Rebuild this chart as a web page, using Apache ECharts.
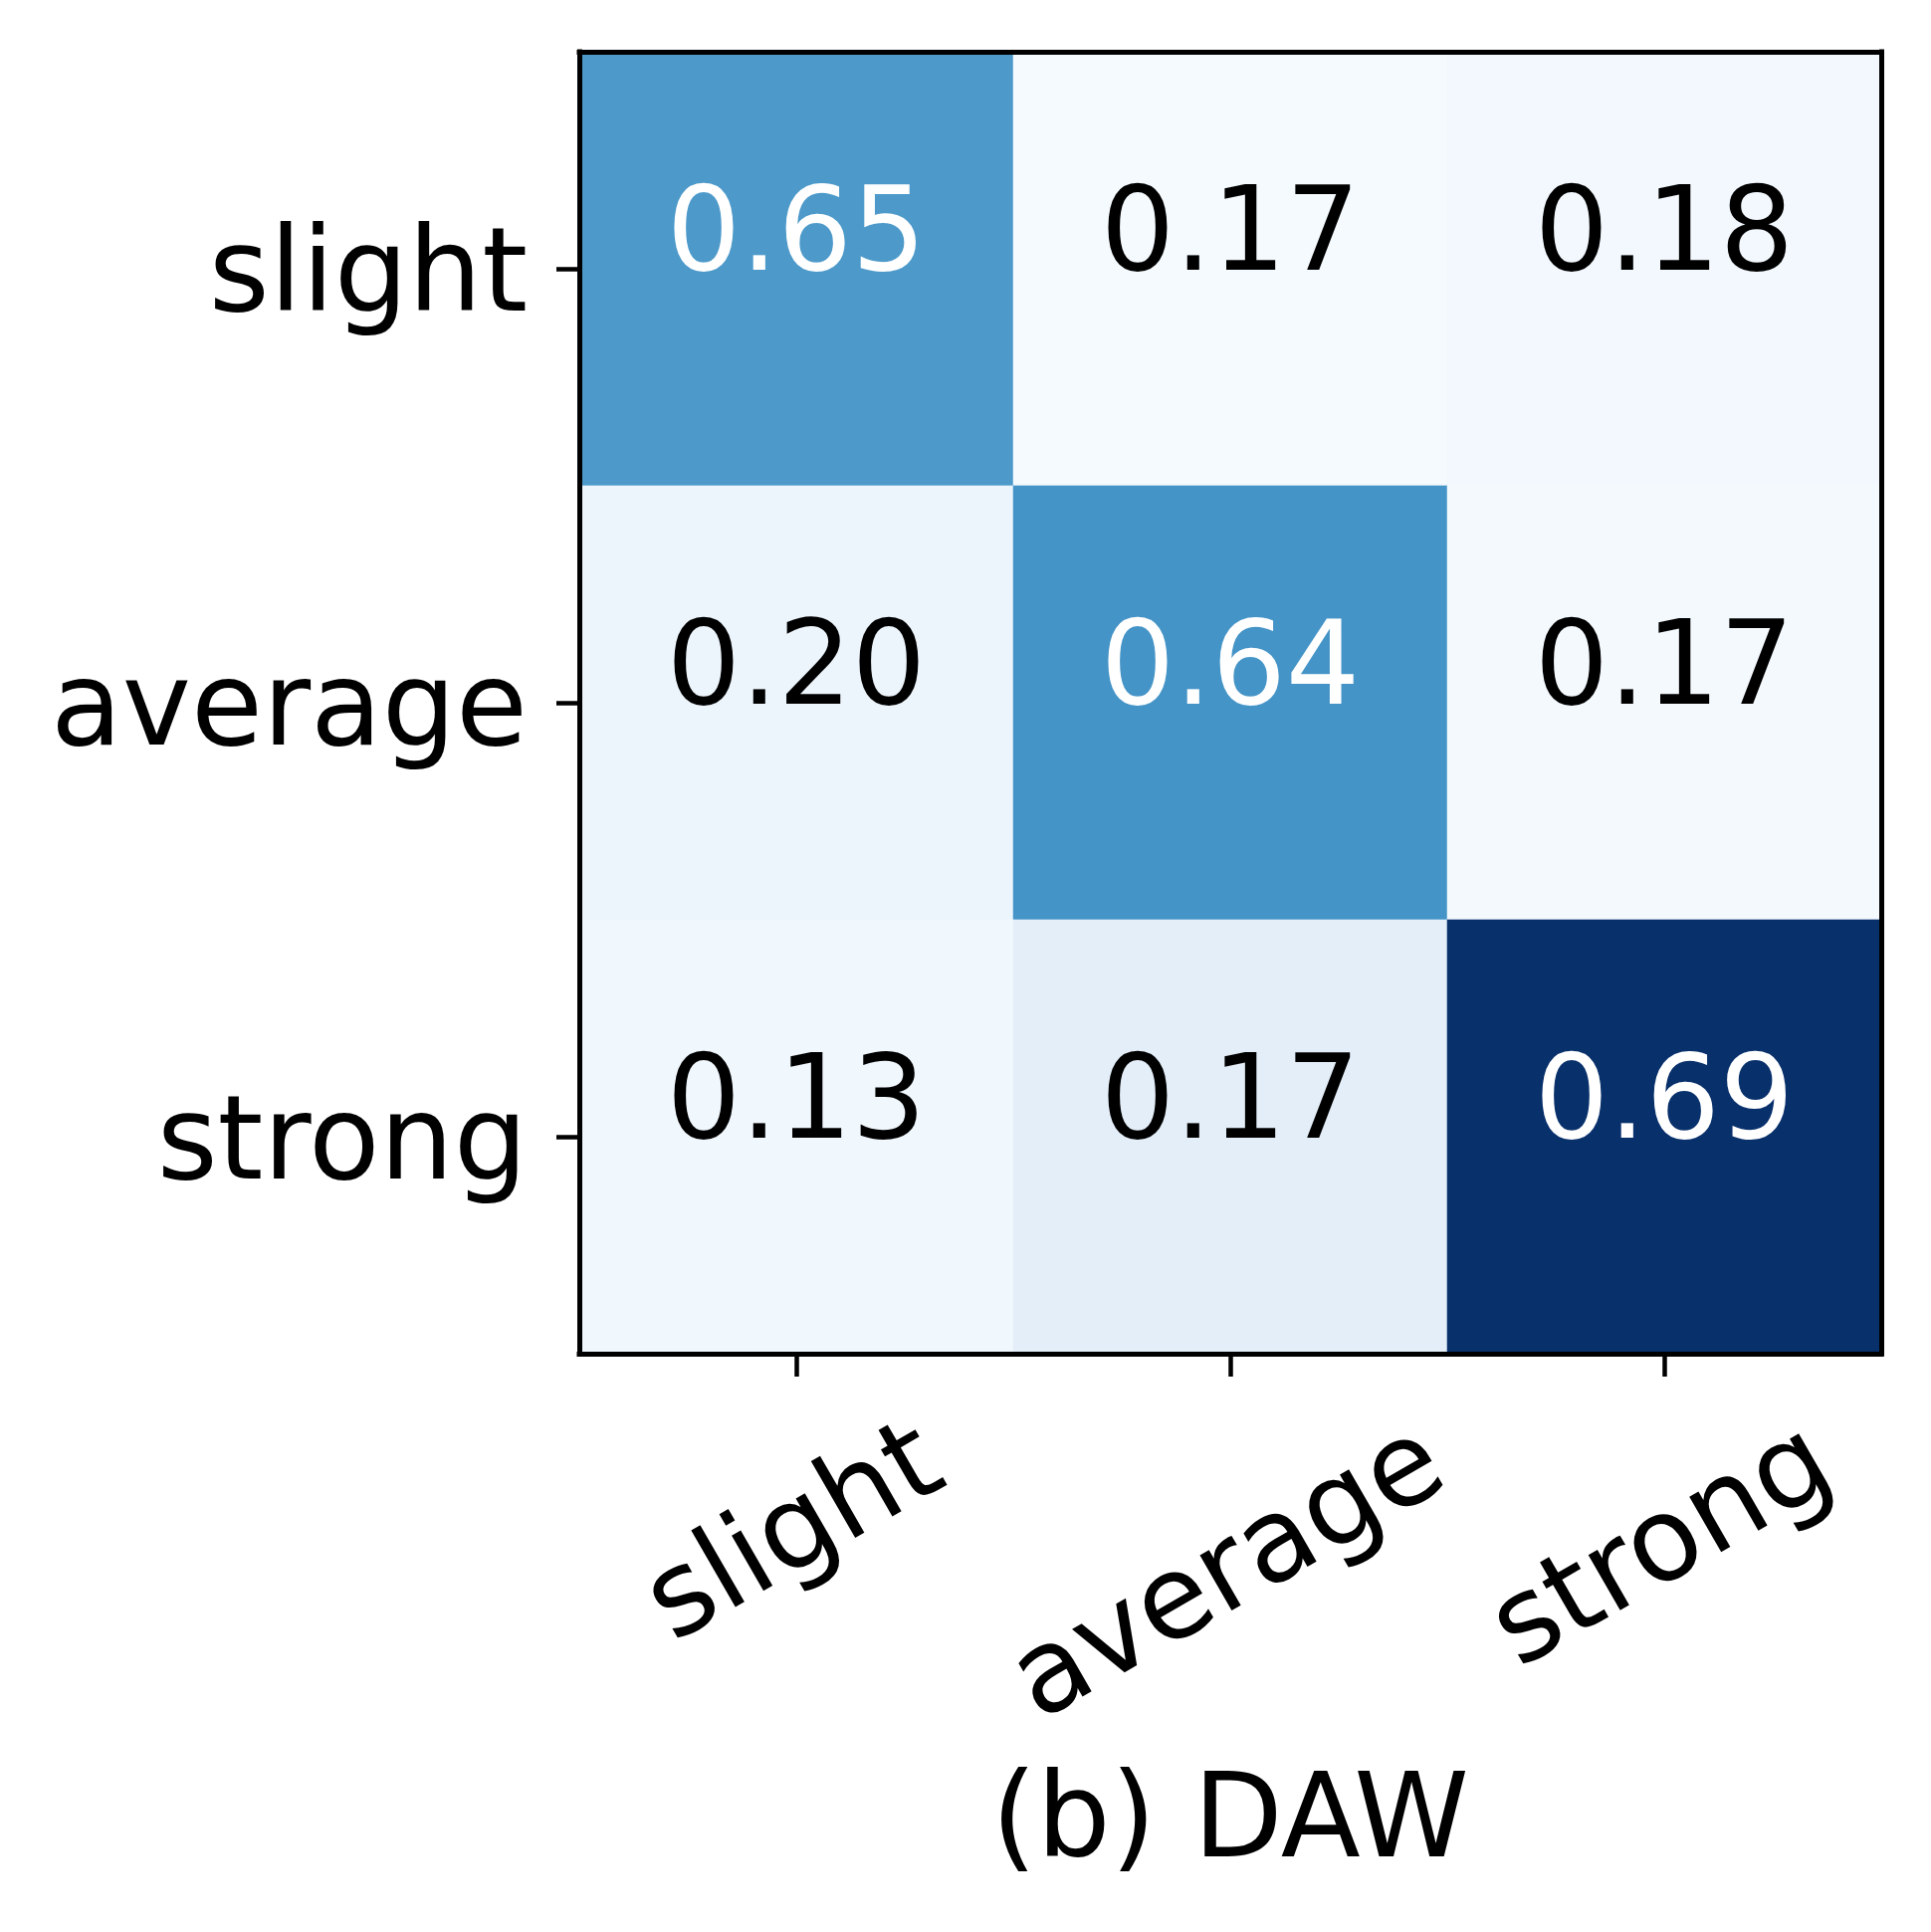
<!DOCTYPE html>
<html><head><meta charset="utf-8">
<script src="https://cdn.jsdelivr.net/npm/echarts@6/dist/echarts.min.js"></script>
<style>html,body{margin:0;padding:0;background:#fff}#c{width:1940px;height:1941px}</style>
</head><body><div id="c"></div>
<script>
// ---- data ----
const categories = ['slight', 'average', 'strong'];
// normalized confusion values shown in the cells (rows: true label, cols: predicted)
const rowSlight  = [0.65, 0.17, 0.18];
const rowAverage = [0.20, 0.64, 0.17];
const rowStrong  = [0.13, 0.17, 0.69];
// colour intensity of each cell (0 = lightest, 1 = darkest)
const shadeSlight  = [0.59, 0.01, 0.025];
const shadeAverage = [0.05, 0.615, 0.015];
const shadeStrong  = [0.035, 0.10, 1.0];
const titleText = '(b) DAW';

// ---- styling ----
const FONT = 'DejaVu Sans';
const FS = 117;
const blues = ['#f7fbff','#deebf7','#c6dbef','#9ecae1','#6baed6','#4292c6','#2171b5','#08519c','#08306b'];

const rows = [rowSlight, rowAverage, rowStrong];
const shades = [shadeSlight, shadeAverage, shadeStrong];
const data = [];
let vmax = 0;
rows.forEach((r, i) => r.forEach((v, j) => { data.push([j, i, shades[i][j], v]); vmax = Math.max(vmax, v); }));
const thresh = vmax / 2;

// x labels: matplotlib-style rotated labels whose bounding box is centred under the tick
const cv = document.createElement('canvas').getContext('2d');
cv.font = FS + 'px "' + FONT + '"';
const ROT = Math.PI / 6;
const xData = categories.map(c => {
  const w = cv.measureText(c).width;
  const Y = w / 4;                      // downward shift of the label centre (screen)
  return { value: c, textStyle: {
    align: 'center', verticalAlign: 'top',
    lineHeight: 2 * Y * Math.cos(ROT),  // shift along the text's own "down" direction
    padding: [0, 2 * Y * Math.sin(ROT), 0, 0] } };
});

const chart = echarts.init(document.getElementById('c'), null, { renderer: 'canvas' });
const lineStyle = { color: '#000', width: 5, cap: 'square' };
chart.setOption({
  animation: false,
  backgroundColor: '#fff',
  title: {
    text: titleText, left: 1236, top: 1776, textAlign: 'center', padding: 0,
    textStyle: { fontFamily: FONT, fontSize: FS, fontWeight: 'normal', color: '#000' }
  },
  grid: { left: 582, top: 52, width: 1308, height: 1308, containLabel: false, outerBoundsMode: 'none' },
  xAxis: [{
    type: 'category', data: xData, position: 'bottom', z: 10,
    axisLine: { show: true, lineStyle },
    axisTick: { show: true, alignWithLabel: true, length: 23, lineStyle: { color: '#000', width: 4.5 } },
    axisLabel: { show: true, interval: 0, rotate: 30, margin: 104,
      fontFamily: FONT, fontSize: FS, color: '#000', hideOverlap: false },
    splitLine: { show: false }, splitArea: { show: false }
  }, {
    type: 'category', data: categories, position: 'top', z: 10,
    axisLine: { show: true, lineStyle }, axisTick: { show: false }, axisLabel: { show: false },
    splitLine: { show: false }
  }],
  yAxis: [{
    type: 'category', data: categories.map(c => ({ value: c, textStyle: { verticalAlign: 'top', lineHeight: 24 } })),
    inverse: true, position: 'left', z: 10,
    axisLine: { show: true, lineStyle },
    axisTick: { show: true, alignWithLabel: true, length: 23, lineStyle: { color: '#000', width: 4.5 } },
    axisLabel: { show: true, interval: 0, margin: 52,
      fontFamily: FONT, fontSize: FS, color: '#000' },
    splitLine: { show: false }, splitArea: { show: false }
  }, {
    type: 'category', data: categories, inverse: true, position: 'right', z: 10,
    axisLine: { show: true, lineStyle }, axisTick: { show: false }, axisLabel: { show: false },
    splitLine: { show: false }
  }],
  visualMap: { show: false, type: 'continuous', min: 0, max: 1, dimension: 2, seriesIndex: 0,
    inRange: { color: blues } },
  series: [{
    type: 'heatmap', xAxisIndex: 0, yAxisIndex: 0, data,
    emphasis: { disabled: true },
    label: {
      show: true, offset: [0, -29], fontFamily: FONT, fontSize: FS,
      formatter: p => (p.data[3] > thresh ? '{w|' : '{k|') + p.data[3].toFixed(2) + '}',
      rich: {
        w: { color: '#fff', fontFamily: FONT, fontSize: FS },
        k: { color: '#000', fontFamily: FONT, fontSize: FS }
      }
    }
  }]
});
</script></body></html>
